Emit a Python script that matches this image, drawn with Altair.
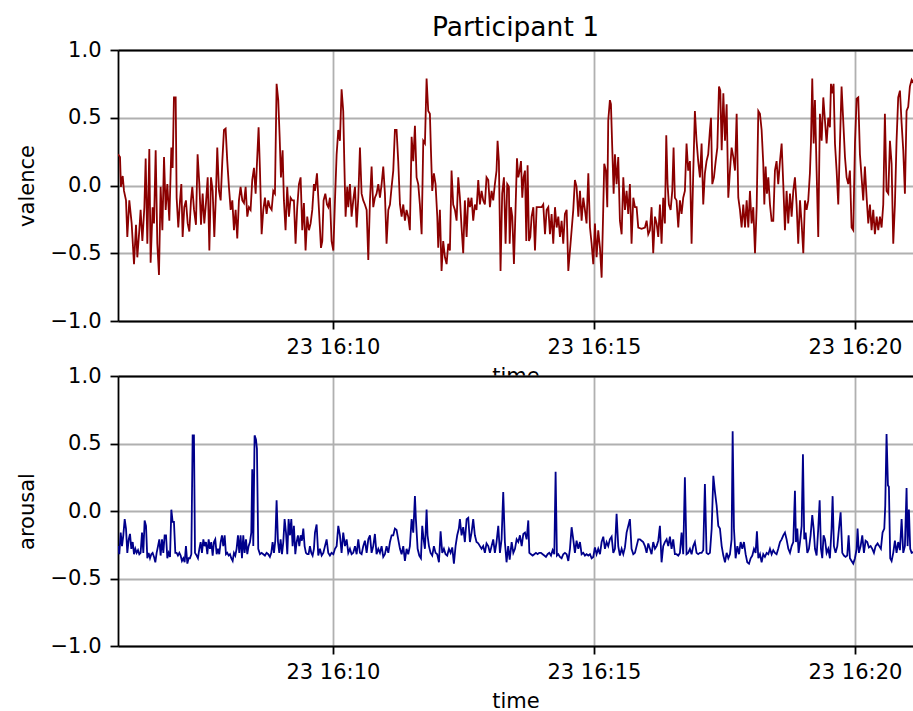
import altair as alt
import pandas as pd

# ---- data (seconds after 16:05:53 on the 23rd) ----
valence_time = [
    0.0, 2.3, 3.4, 5.4, 6.9, 9.2, 10.7, 13.0, 15.7, 18.4,
    20.7, 22.2, 24.5, 26.0, 28.0, 30.3, 31.8, 33.7, 36.0, 37.5,
    39.8, 41.4, 43.3, 45.2, 47.1, 49.0, 51.0, 52.9, 54.8, 56.7,
    59.0, 61.3, 62.8, 64.3, 66.3, 67.4, 69.3, 71.3, 72.8, 74.3,
    76.2, 78.1, 80.1, 82.0, 83.9, 85.4, 87.4, 89.6, 91.5, 93.5,
    95.4, 97.3, 99.2, 101.1, 103.1, 105.0, 106.9, 108.8, 110.7, 112.6,
    114.1, 116.1, 118.0, 119.9, 121.8, 123.7, 125.6, 127.5, 129.5, 131.4,
    133.3, 135.2, 137.1, 139.0, 140.9, 142.9, 144.8, 146.7, 148.6, 150.5,
    152.4, 154.3, 156.3, 158.2, 159.7, 161.6, 163.1, 165.1, 167.0, 168.9,
    170.8, 172.7, 174.6, 176.6, 178.5, 180.4, 182.3, 184.2, 185.8, 187.3,
    189.2, 190.7, 192.6, 194.5, 196.5, 198.4, 200.3, 202.2, 204.1, 206.0,
    208.0, 209.9, 211.8, 213.7, 215.6, 217.5, 219.5, 221.4, 223.3, 225.2,
    226.4, 228.7, 231.0, 233.3, 234.8, 236.3, 238.3, 240.2, 241.7, 243.6,
    245.5, 247.5, 249.4, 251.3, 253.2, 255.1, 257.0, 258.9, 260.1, 261.6,
    263.5, 264.7, 266.6, 268.5, 270.4, 272.4, 274.3, 276.2, 278.1, 280.0,
    281.9, 283.8, 285.8, 287.7, 289.6, 291.5, 293.4, 295.3, 297.2, 299.2,
    301.1, 303.0, 304.9, 306.8, 308.7, 310.7, 312.6, 314.5, 316.4, 318.3,
    320.2, 322.1, 324.1, 326.0, 327.9, 329.8, 331.7, 333.6, 335.5, 337.5,
    339.4, 341.3, 343.2, 345.1, 347.0, 349.0, 350.9, 352.8, 354.7, 356.6,
    358.5, 359.7, 361.2, 363.1, 365.0, 367.0, 368.1, 370.0, 371.9, 373.8,
    375.8, 377.7, 379.6, 381.5, 383.4, 385.3, 387.3, 389.2, 391.1, 393.0,
    394.9, 396.8, 398.7, 400.7, 402.6, 404.5, 406.4, 408.3, 410.2, 412.1,
    414.1, 416.0, 417.9, 419.8, 421.7, 423.6, 425.6, 427.5, 429.4, 431.3,
    433.2, 435.1, 436.3, 437.8, 439.7, 441.6, 443.6, 445.5, 447.4, 449.3,
    450.2, 451.7, 453.2, 455.1, 457.1, 458.6, 460.1, 461.7, 463.2, 464.7,
    466.2, 467.8, 469.3, 470.8, 472.4, 473.9, 475.4, 477.4, 479.3, 481.2,
    483.1, 485.0, 486.9, 488.8, 490.8, 492.7, 494.6, 496.5, 498.4, 500.3,
    502.3, 504.2, 506.1, 508.0, 509.9, 511.8, 513.7, 515.7, 517.6, 519.5,
    521.4, 523.3, 525.2, 527.1, 529.1, 531.0, 532.9, 534.8, 536.7, 538.6,
    540.6, 542.5, 544.4, 546.3, 548.2, 550.1, 552.0, 554.0, 555.9, 557.8,
    558.9, 560.8, 562.4, 563.5, 565.4, 566.6, 568.1, 569.7, 571.2, 573.1,
    575.0, 576.9, 578.9, 580.8, 582.7, 584.6, 586.5, 588.4, 590.3, 592.3,
    594.2, 596.1, 598.0, 601.8, 605.7, 607.6, 609.5, 611.4, 613.3, 615.2,
    617.2, 619.1, 621.0, 622.9, 624.8, 626.7, 628.6, 630.2, 631.7, 633.2,
    635.2, 637.1, 638.6, 640.1, 642.0, 644.0, 645.9, 647.8, 649.7, 651.6,
    653.5, 655.4, 657.4, 659.3, 661.2, 663.1, 665.0, 666.9, 668.9, 670.8,
    672.7, 674.6, 676.5, 678.4,
    680.4, 681.6, 683.1, 685.0, 687.0, 688.9, 690.8, 692.3, 693.9, 695.8,
    697.7, 699.6, 701.5, 703.4, 705.3, 707.3, 709.2, 711.1, 713.0, 714.9,
    716.8, 718.7, 720.7, 722.6, 724.5, 726.4, 728.3, 730.2, 732.2, 734.1,
    736.0, 737.9, 739.8, 741.7, 742.9, 744.4, 745.9, 747.5, 749.4, 751.3,
    753.2, 755.1, 757.0, 758.9, 760.9, 762.8, 764.7, 766.6, 768.5, 770.4,
    772.4, 774.3, 776.2, 778.1, 780.0, 781.9, 783.9, 785.8, 787.7, 789.6,
    791.5, 793.4, 795.3, 796.5, 798.0, 799.6, 801.1, 803.0, 804.9, 806.8,
    808.8, 810.7, 812.6, 814.5, 816.4, 818.3, 819.5, 821.0, 822.5, 824.1,
    826.0, 827.9, 829.8, 831.7, 833.6, 835.6, 837.5, 839.4, 841.3, 843.2,
    845.1, 847.1, 849.0, 850.9, 852.8, 854.7, 856.6, 858.5, 860.5, 862.4,
    864.3, 866.2, 868.1, 870.0, 872.0, 873.9, 875.8, 877.7, 879.6, 881.5,
    883.4, 885.4, 887.3, 889.2, 891.1, 893.0, 894.9, 896.8, 898.8, 900.7,
    902.6, 904.5, 906.4, 908.3, 910.2, 912.2, 916.0,
]
valence = [
    0.23, 0.21, -0.01, 0.07, -0.04, -0.11, -0.38, -0.11, -0.28, -0.58,
    -0.29, -0.53, -0.33, -0.18, -0.41, -0.16, 0.20, -0.43, 0.27, -0.57,
    -0.16, -0.28, 0.26, -0.43, -0.66, -0.01, -0.33, 0.21, -0.18, 0.01,
    -0.26, 0.28, 0.13, 0.65, 0.65, -0.09, -0.31, -0.11, 0.01, -0.38,
    -0.16, -0.11, -0.28, -0.34, -0.11, -0.01, -0.18, -0.29, 0.23, 0.01,
    -0.29, -0.06, -0.28, -0.13, 0.06, -0.48, 0.06, -0.04, -0.38, -0.06,
    0.28, -0.04, -0.11, 0.18, 0.41, 0.42, 0.18, -0.01, -0.18, -0.11,
    -0.33, -0.18, -0.39, -0.11, -0.01, -0.11, -0.13, -0.01, -0.23, -0.16,
    -0.18, 0.04, 0.13, -0.06, 0.16, 0.43, 0.13, -0.36, -0.18, -0.09,
    -0.21, -0.11, -0.16, -0.18, -0.04, -0.06, 0.75, 0.63, 0.36, 0.06,
    0.26, -0.11, -0.33, -0.01, -0.23, -0.09, -0.11, -0.11, -0.43, -0.16,
    0.01, 0.06, -0.33, -0.13, -0.48, -0.23, -0.33, -0.28, -0.18, 0.01,
    -0.04, 0.09, -0.18, -0.46, -0.41, -0.11, -0.06, -0.14, -0.16, -0.09,
    -0.41, -0.48, -0.11, 0.23, 0.41, 0.33, 0.71, 0.55, 0.18, -0.23,
    -0.01, -0.16, 0.01, -0.23, -0.11, -0.01, -0.31, -0.09, 0.28, -0.06,
    -0.11, -0.14, -0.18, -0.55, -0.11, 0.14, -0.16, -0.09, -0.06, 0.01,
    -0.09, 0.01, 0.14, -0.06, -0.43, -0.18, -0.14, -0.01, 0.11, 0.41,
    0.41, 0.18, -0.14, -0.23, -0.14, -0.26, -0.18, -0.23, -0.33, 0.36,
    0.18, 0.44, 0.06, 0.01, -0.14, -0.36, 0.33, 0.31, 0.79, 0.55,
    0.53, 0.26, -0.04, 0.09, 0.01, -0.23, -0.46, -0.18, -0.63, -0.41,
    -0.53, -0.58, -0.43, -0.48, 0.11, -0.14, -0.18, -0.26, 0.06, -0.09,
    -0.31, -0.50, -0.11, -0.38, -0.09, -0.16, -0.09, -0.26, -0.14, -0.18,
    0.04, -0.14, -0.04, -0.11, -0.14, 0.06, 0.04, -0.16, -0.04, -0.11,
    0.01, 0.11, 0.33, 0.18, -0.63, -0.06, 0.06, -0.43, 0.01, -0.01,
    -0.43, -0.16, -0.23, -0.58, -0.14, 0.20, 0.06, 0.11, 0.18, -0.09,
    0.06, 0.11, -0.41, 0.15, -0.41, -0.38, -0.23, -0.16, -0.48, -0.16,
    -0.16, -0.16, -0.16, -0.14, -0.36, -0.18, -0.16, -0.36, -0.21, -0.43,
    -0.16, -0.31, -0.23, -0.38, -0.26, -0.43, -0.21, -0.18, -0.63, -0.48,
    -0.33, -0.18, 0.04, -0.01, -0.23, -0.04, -0.26, -0.09, -0.18, -0.28,
    0.09, -0.31, -0.43, -0.58, -0.28, -0.53, -0.33, -0.46, -0.68, -0.16,
    0.16, 0.11, -0.16, 0.48, 0.63, 0.60, 0.28, -0.06, 0.23, 0.01,
    0.21, -0.26, -0.36, 0.06, -0.18, -0.04, -0.21, 0.01, -0.43, -0.09,
    -0.16, -0.16, -0.31, -0.32, -0.31, -0.26, -0.36, -0.33, -0.16, -0.50,
    -0.23, -0.28, -0.38, -0.14, -0.43, -0.09, -0.28, 0.37, 0.01, -0.14,
    -0.18, -0.04, 0.28, -0.09, -0.11, -0.31, -0.11, -0.21, -0.09, -0.04,
    0.31, 0.11, 0.18, -0.43, 0.09, 0.55, 0.33, 0.18, 0.06, 0.31,
    -0.14, 0.09, 0.18, 0.23,
    0.41, 0.50, 0.01, 0.06, 0.18, 0.28, 0.73, 0.70, 0.26, 0.68,
    0.33, 0.60, -0.09, 0.11, 0.28, 0.21, 0.11, 0.53, -0.09, -0.18,
    -0.31, -0.14, -0.31, -0.11, -0.31, -0.04, -0.28, -0.16, -0.50, -0.16,
    0.55, 0.53, 0.41, 0.16, -0.14, 0.14, -0.06, 0.06, -0.14, -0.26,
    -0.26, 0.11, 0.18, 0.01, 0.18, 0.31, 0.01, -0.33, -0.04, -0.28,
    -0.06, -0.23, -0.04, 0.06, -0.14, -0.43, -0.11, -0.28, -0.50, -0.11,
    -0.18, -0.11, 0.09, 0.31, 0.79, 0.31, 0.63, 0.11, -0.38, 0.53,
    0.33, 0.65, 0.48, 0.31, 0.50, 0.43, 0.75, 0.68, 0.75, 0.31,
    0.11, -0.14, 0.31, 0.73, 0.48, 0.21, 0.06, 0.01, 0.11, -0.31,
    -0.33, 0.31, 0.64, 0.65, 0.23, 0.06, -0.11, 0.14, -0.09, -0.28,
    -0.14, -0.33, -0.18, -0.36, -0.23, -0.33, -0.23, -0.31, -0.14, 0.53,
    -0.04, -0.06, 0.33, 0.16, -0.43, -0.14, 0.33, 0.65, 0.70, 0.46,
    0.26, -0.06, 0.55, 0.58, 0.73, 0.78, 0.74,
]

arousal_time = [
    0.0, 1.5, 3.1, 4.6, 6.1, 7.7, 9.2, 10.7, 12.3, 13.8,
    15.3, 16.9, 18.4, 19.9, 21.4, 23.0, 24.5, 26.0, 27.6, 29.1,
    30.6, 32.2, 33.7, 35.2, 36.8, 38.3, 39.8, 41.4, 42.9, 44.4,
    46.0, 47.5, 49.0, 50.6, 52.1, 53.6, 55.2, 56.7, 58.2, 59.8,
    61.3, 62.8, 64.3, 65.9, 67.4, 68.9, 70.5, 72.0, 73.5, 75.1,
    76.6, 78.1, 79.7, 81.2, 82.7, 84.3, 85.8, 87.3, 88.5, 90.4,
    91.9, 93.5, 95.0, 96.5, 98.1, 99.6, 101.1, 102.7, 104.2, 105.7,
    107.2, 108.8, 110.3, 111.8, 113.4, 114.9, 116.4, 118.0, 119.5, 121.0,
    122.6, 124.1, 125.6, 127.2, 128.7, 130.2, 131.8, 133.3, 134.8, 136.3,
    137.9, 139.4, 140.9, 142.5, 144.0, 145.5, 147.1, 148.6, 150.1, 151.7,
    153.2, 154.3, 155.5, 157.0, 158.6, 159.7, 161.2, 163.2, 165.1, 167.0,
    168.9, 170.8, 172.7, 174.6, 176.2, 177.7, 179.3, 180.8, 182.3, 183.9,
    185.4, 186.9, 188.5, 190.0, 191.5, 193.1, 194.6, 196.1, 197.7, 199.2,
    200.7, 202.2, 203.8, 205.3, 206.8, 208.4, 209.9, 211.4, 213.0, 214.5,
    216.0, 217.6, 219.1, 220.6, 222.2, 223.7, 225.2,
    226.4, 228.3, 230.2, 232.1, 234.1, 236.0, 237.9, 239.8, 241.7, 243.6,
    245.5, 247.5, 249.4, 251.3, 253.2, 255.1, 257.0, 258.9, 260.9, 262.8,
    264.7, 266.6, 268.5, 270.4, 272.4, 274.3, 276.2, 278.1, 280.0, 281.9,
    283.8, 285.8, 287.7, 289.6, 291.5, 293.4, 295.3, 297.2, 299.2, 301.1,
    303.0, 304.9, 306.8, 308.7, 310.7, 312.6, 314.5, 316.4, 318.3, 320.2,
    322.1, 324.1, 326.0, 327.9, 329.8, 331.7, 333.6, 335.5, 337.5, 339.4,
    341.3, 342.4, 344.4, 346.3, 348.2, 349.7, 351.3, 352.8, 354.7, 355.8,
    357.4, 359.3, 361.2, 363.1, 365.0, 366.9, 368.9, 370.8, 372.7, 374.6,
    376.5, 378.4, 380.4, 382.3, 384.2, 386.1, 388.0, 389.9, 391.8, 393.0,
    394.9, 396.8, 398.7, 400.7, 402.6, 404.5, 406.4, 408.3, 410.2, 412.1,
    414.1, 416.0, 417.9, 419.8, 421.7, 423.6, 425.6, 427.5, 429.4, 431.3,
    433.2, 435.1, 437.1, 439.0, 440.9, 442.8, 444.7, 446.6, 448.5,
    450.2, 452.5, 454.4, 456.3, 458.2, 460.1, 462.0, 464.0, 465.9, 467.8,
    469.7, 471.6, 472.8, 474.7, 476.6, 478.5, 480.4, 482.3, 484.2, 486.2,
    488.1, 490.0, 491.9, 493.8, 495.7, 497.7, 499.6, 501.5, 503.0, 504.5,
    506.1, 508.0, 509.9, 511.8, 513.7, 515.7, 517.6, 519.5, 521.4, 523.3,
    525.2, 527.1, 529.1, 531.0, 532.9, 534.8, 536.7, 538.6, 540.6, 542.5,
    544.4, 546.3, 548.2, 550.1, 552.0, 554.0, 555.9, 557.8, 559.7, 561.6,
    563.5, 565.4, 567.4, 569.3, 571.2, 573.1, 575.0, 576.9, 578.9, 580.8,
    582.7, 584.6, 586.5, 588.4, 590.3, 592.3, 594.2, 596.1, 598.0, 599.9,
    601.8, 603.7, 605.7, 607.6, 609.5, 611.4, 613.3, 615.2, 617.2, 619.1,
    621.0, 622.9, 624.8, 626.7, 628.6, 630.6, 632.5, 634.4, 636.3, 638.2,
    640.1, 642.0, 644.0, 645.9, 647.8, 649.7, 651.6, 653.5, 655.4, 657.4,
    659.3, 661.2, 663.1, 665.0, 666.9, 668.9, 670.8, 672.7, 674.6, 676.5,
    678.4,
    680.4, 682.4, 684.3, 686.2, 688.1, 690.0, 691.9, 693.9, 695.8, 697.7,
    699.6, 701.5, 703.4, 705.3, 706.5, 708.0, 709.9, 711.9, 713.8, 715.7,
    717.6, 719.5, 721.4, 723.3, 725.3, 727.2, 729.1, 731.0, 732.9, 734.4,
    736.0, 737.9, 739.8, 741.7, 743.6, 745.6, 747.5, 749.4, 751.3, 753.2,
    755.1, 757.0, 758.9, 760.9, 762.8, 764.7, 766.6, 768.5, 770.5, 772.4,
    774.3, 776.2, 778.1, 779.3, 780.8, 782.3, 783.9, 785.8, 787.3, 788.8,
    790.4, 792.3, 794.2, 796.1, 798.0, 799.6, 801.1, 803.0, 804.9, 806.5,
    808.0, 809.5, 811.0, 812.6, 814.5, 816.4, 818.3, 820.2, 821.4, 822.9,
    824.8, 826.8, 828.7, 830.6, 832.5, 834.4, 836.3, 838.2, 839.8, 841.3,
    843.2, 845.1, 847.1, 849.0, 850.1, 851.6, 853.6, 855.5, 857.4, 859.3,
    861.2, 863.1, 865.1, 867.0, 868.9, 870.8, 873.1, 875.0, 876.9, 878.8,
    880.8, 881.9, 883.4, 885.0, 886.1, 887.6, 889.2, 891.1, 893.0, 894.9,
    896.8, 898.8, 900.7, 902.6, 904.5, 906.4, 907.6, 909.1, 910.6, 912.2,
    916.0,
]
arousal = [
    -0.26, -0.32, -0.16, -0.26, -0.18, -0.06, -0.13, -0.31, -0.21, -0.17,
    -0.28, -0.23, -0.32, -0.28, -0.31, -0.29, -0.32, -0.31, -0.16, -0.31,
    -0.07, -0.11, -0.35, -0.31, -0.35, -0.32, -0.31, -0.34, -0.38, -0.31,
    -0.26, -0.21, -0.33, -0.21, -0.31, -0.18, -0.18, -0.35, -0.31, -0.34,
    0.01, -0.08, -0.08, -0.31, -0.31, -0.33, -0.31, -0.33, -0.37, -0.35,
    -0.38, -0.26, -0.39, -0.35, -0.35, -0.32, 0.56, 0.56, -0.31, -0.33,
    -0.35, -0.28, -0.23, -0.31, -0.21, -0.26, -0.23, -0.32, -0.21, -0.28,
    -0.23, -0.33, -0.23, -0.21, -0.32, -0.28, -0.32, -0.23, -0.18, -0.26,
    -0.18, -0.32, -0.31, -0.33, -0.32, -0.35, -0.37, -0.31, -0.33, -0.28,
    -0.18, -0.31, -0.18, -0.35, -0.18, -0.31, -0.21, -0.32, -0.26, -0.23,
    -0.16, 0.31, -0.26, 0.56, 0.53, 0.46, -0.28, -0.32, -0.31, -0.32,
    -0.33, -0.31, -0.32, -0.34, -0.31, -0.23, -0.31, -0.22, 0.08, -0.23,
    -0.31, -0.21, -0.32, -0.23, -0.06, -0.16, -0.32, -0.06, -0.18, -0.06,
    -0.26, -0.11, -0.32, -0.23, -0.18, -0.26, -0.18, -0.22, -0.13, -0.26,
    -0.31, -0.32, -0.32, -0.26, -0.31, -0.33, -0.28,
    -0.16, -0.10, -0.33, -0.28, -0.33, -0.31, -0.26, -0.21, -0.31, -0.33,
    -0.31, -0.32, -0.28, -0.26, -0.11, -0.18, -0.31, -0.16, -0.26, -0.21,
    -0.31, -0.28, -0.32, -0.31, -0.26, -0.32, -0.21, -0.31, -0.32, -0.26,
    -0.22, -0.31, -0.21, -0.18, -0.31, -0.26, -0.17, -0.32, -0.28, -0.31,
    -0.26, -0.34, -0.32, -0.26, -0.31, -0.23, -0.18, -0.18, -0.13, -0.14,
    -0.21, -0.28, -0.32, -0.26, -0.37, -0.28, -0.32, -0.26, -0.06, -0.16,
    0.11, -0.06, -0.28, -0.33, -0.35, -0.11, -0.21, -0.28, 0.01, -0.18,
    -0.26, -0.31, -0.33, -0.26, -0.31, -0.32, -0.38, -0.15, -0.31, -0.28,
    -0.32, -0.33, -0.28, -0.31, -0.27, -0.39, -0.26, -0.18, -0.13, -0.06,
    -0.18, -0.12, -0.23, -0.06, -0.05, -0.23, -0.16, -0.06, -0.18, -0.23,
    -0.24, -0.26, -0.28, -0.26, -0.31, -0.24, -0.26, -0.31, -0.26, -0.21,
    -0.31, -0.23, -0.11, -0.31, -0.21, 0.14, -0.23, -0.38, -0.26,
    -0.36, -0.23, -0.31, -0.28, -0.21, -0.23, -0.18, -0.26, -0.17, -0.16,
    -0.21, -0.07, -0.31, -0.32, -0.33, -0.32, -0.31, -0.32, -0.31, -0.31,
    -0.32, -0.33, -0.34, -0.32, -0.31, -0.33, -0.29, -0.32, 0.29, -0.33,
    -0.32, -0.34, -0.35, -0.32, -0.31, -0.32, -0.37, -0.28, -0.12, -0.21,
    -0.31, -0.22, -0.28, -0.23, -0.32, -0.31, -0.33, -0.32, -0.33, -0.32,
    -0.35, -0.34, -0.27, -0.32, -0.28, -0.32, -0.23, -0.19, -0.28, -0.23,
    -0.26, -0.21, -0.19, -0.31, -0.28, -0.02, -0.26, -0.33, -0.28, -0.32,
    -0.27, -0.16, -0.11, -0.06, -0.28, -0.32, -0.31, -0.26, -0.21, -0.21,
    -0.22, -0.23, -0.26, -0.31, -0.24, -0.28, -0.32, -0.23, -0.28, -0.26,
    -0.22, -0.11, -0.38, -0.26, -0.23, -0.21, -0.26, -0.19, -0.28, -0.21,
    -0.32, -0.32, -0.33, -0.31, -0.16, -0.32, 0.25, -0.32, -0.31, -0.28,
    -0.32, -0.26, -0.23, -0.31, -0.32, -0.31, -0.31, -0.29, 0.20, -0.31,
    -0.32,
    -0.31, -0.13, 0.26, 0.14, 0.04, -0.11, -0.13, -0.26, -0.33, -0.38,
    -0.31, -0.35, -0.32, -0.21, 0.59, -0.13, -0.35, -0.26, -0.32, -0.23,
    -0.28, -0.23, -0.32, -0.38, -0.39, -0.35, -0.33, -0.28, -0.31, -0.15,
    -0.35, -0.32, -0.38, -0.32, -0.34, -0.31, -0.32, -0.28, -0.32, -0.29,
    -0.31, -0.32, -0.28, -0.23, -0.21, -0.18, -0.16, -0.21, -0.28, -0.31,
    -0.26, -0.23, 0.15, -0.23, -0.13, -0.31, -0.23, -0.11, 0.42, -0.21,
    -0.16, -0.31, -0.28, -0.18, -0.03, -0.13, -0.28, -0.33, -0.13, 0.08,
    -0.28, -0.35, -0.18, -0.21, -0.31, -0.28, -0.35, -0.13, 0.11, -0.26,
    -0.31, -0.26, -0.13, -0.01, -0.31, -0.33, -0.34, -0.33, -0.18, -0.35,
    -0.37, -0.39, -0.35, -0.28, -0.13, -0.31, -0.26, -0.18, -0.31, -0.22,
    -0.23, -0.27, -0.26, -0.28, -0.31, -0.26, -0.24, -0.26, -0.28, -0.16,
    -0.13, 0.04, 0.57, 0.19, 0.18, -0.35, -0.37, -0.31, -0.22, -0.31,
    -0.23, -0.29, -0.06, -0.31, -0.26, 0.17, -0.26, 0.01, -0.28, -0.31,
    -0.30,
]

y_ticks = [-1.0, -0.5, 0.0, 0.5, 1.0]
x_tick_minutes = [10, 15, 20]
chart_title = "Participant 1"

start = pd.Timestamp("2020-03-23 16:05:53")


def frame(times, values):
    n = min(len(times), len(values))
    return pd.DataFrame({
        "time": start + pd.to_timedelta(pd.Series(times[:n]), unit="s"),
        "value": values[:n],
    })


df_val = frame(valence_time, valence)
df_aro = frame(arousal_time, arousal)

FONT = "DejaVu Sans"
FS = 21
W = 795

x_scale = alt.Scale(
    domain=[
        alt.DateTime(year=2020, month=3, date=23, hours=16, minutes=5, seconds=53),
        alt.DateTime(year=2020, month=3, date=23, hours=16, minutes=21, seconds=6, milliseconds=800),
    ]
)
y_scale = alt.Scale(domain=[-1, 1], nice=False, zero=False)

x_axis = alt.Axis(
    values=[alt.DateTime(year=2020, month=3, date=23, hours=16, minutes=m) for m in x_tick_minutes],
    format="%d %H:%M",
    title="time",
    labelOverlap=False,
    labelFlush=False,
    tickSize=8,
    labelPadding=7,
    titlePadding=8,
)


def y_axis(title):
    return alt.Axis(
        title=title,
        values=y_ticks,
        format=".1f",
        tickSize=8,
        labelPadding=9,
        titlePadding=13,
    )


def panel(df, color, ytitle, height, title=None):
    base = alt.Chart(df)
    line = base.mark_line(color=color, strokeWidth=1.8, clip=True).encode(
        x=alt.X("time:T", scale=x_scale, axis=x_axis),
        y=alt.Y("value:Q", scale=y_scale, axis=y_axis(ytitle)),
    )
    top = base.mark_line(strokeOpacity=0, clip=True).encode(
        x=alt.X(
            "time:T",
            scale=x_scale,
            axis=alt.Axis(orient="top", labels=False, ticks=False, grid=False,
                          title=None, domain=True, domainColor="black", domainWidth=1.8),
        ),
        y=alt.Y("value:Q", scale=y_scale, axis=y_axis(ytitle)),
    )
    props = dict(width=W, height=height)
    if title is not None:
        props["title"] = alt.TitleParams(
            title, font=FONT, fontSize=26.5, fontWeight="normal", color="black",
            anchor="middle", frame="group", offset=-2,
        )
    return alt.layer(line, top).resolve_axis(x="independent").properties(**props)


top_panel = panel(df_val, "#8b0000", "valence", 271, title=chart_title)
bottom_panel = panel(df_aro, "#00008b", "arousal", 270)

chart = alt.VConcatChart(
    vconcat=[top_panel, bottom_panel],
    spacing=55,
    bounds="flush",
    padding={"left": 16, "top": 14, "right": 0, "bottom": 0},
    background="white",
).configure_view(
    stroke=None, fill="white"
).configure_axis(
    labelFont=FONT, titleFont=FONT, labelFontSize=FS, titleFontSize=FS,
    labelColor="black", titleColor="black", titleFontWeight="normal",
    domainColor="black", tickColor="black", domainWidth=1.8, tickWidth=1.8,
    gridColor="#b0b0b0", gridWidth=1.8, gridOpacity=1,
)

chart.save("out.html", embed_options={"renderer": "svg", "actions": False})
